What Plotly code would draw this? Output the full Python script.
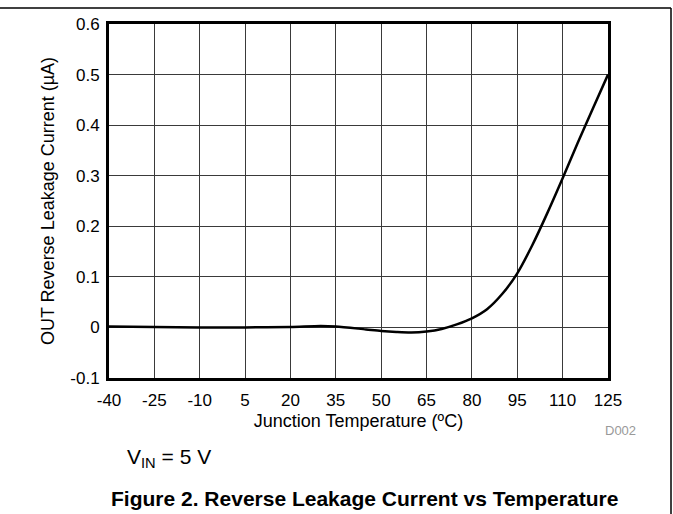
import plotly.graph_objects as go

temps = [-40, -25, -10, 5, 20, 30, 35, 45, 50, 55, 60, 65, 70, 75, 80, 85, 90, 95, 100, 105, 110, 115, 120, 125]
leak = [0.002, 0.001, 0.0, 0.0, 0.001, 0.003, 0.002, -0.004, -0.007, -0.009, -0.010, -0.008, -0.003, 0.006,
        0.018, 0.036, 0.066, 0.107, 0.163, 0.227, 0.295, 0.365, 0.433, 0.5]

x_ticks = [-40, -25, -10, 5, 20, 35, 50, 65, 80, 95, 110, 125]
y_ticks = [-0.1, 0, 0.1, 0.2, 0.3, 0.4, 0.5, 0.6]
y_tick_text = ["-0.1", "0", "0.1", "0.2", "0.3", "0.4", "0.5", "0.6"]

W, H = 673, 514
ML, MT = 109, 24
MR = W - 608
MB = H - 378
PW, PH = W - ML - MR, H - MT - MB

def px_x(p):
    return (p - ML) / PW

def px_y(p):
    return (H - MB - p) / PH

FONT = "Liberation Sans, Arial, sans-serif"

fig = go.Figure()
fig.add_trace(go.Scatter(x=temps, y=leak, mode="lines",
                         line=dict(color="black", width=2.5, shape="spline", smoothing=0.8),
                         hoverinfo="skip", showlegend=False))

axis_common = dict(showline=True, linecolor="black", linewidth=3, mirror=True,
                   showgrid=True, gridcolor="#3a3a3a", gridwidth=1, zeroline=False,
                   ticks="", tickfont=dict(family=FONT, size=17, color="black"))

fig.update_xaxes(range=[-40, 125], tickmode="array", tickvals=x_ticks,
                 ticktext=[str(v) for v in x_ticks], ticklabelstandoff=5,
                 title=dict(text="Junction Temperature (ºC)", font=dict(family=FONT, size=18, color="black"), standoff=5),
                 **axis_common)
fig.update_yaxes(range=[-0.1, 0.6], tickmode="array", tickvals=y_ticks, ticktext=y_tick_text,
                 ticklabelstandoff=3,
                 title=dict(text="OUT Reverse Leakage Current (µA)", font=dict(family=FONT, size=18, color="black"), standoff=12),
                 **axis_common)

# page frame lines (top and right)
fig.add_shape(type="line", xref="paper", yref="paper", layer="above",
              x0=px_x(0), x1=px_x(671), y0=px_y(8), y1=px_y(8),
              line=dict(color="black", width=1.5))
fig.add_shape(type="line", xref="paper", yref="paper", layer="above",
              x0=px_x(671), x1=px_x(671), y0=px_y(8), y1=px_y(514),
              line=dict(color="black", width=1.5))

fig.add_annotation(text="D002", xref="paper", yref="paper", x=px_x(620), y=px_y(431),
                   showarrow=False, xanchor="center", yanchor="middle",
                   font=dict(family=FONT, size=13, color="#999999"))
fig.add_annotation(text="V<sub>IN</sub> = 5 V", xref="paper", yref="paper", x=px_x(125), y=px_y(458),
                   showarrow=False, xanchor="left", yanchor="middle",
                   font=dict(family=FONT, size=21, color="black"))
fig.add_annotation(text="<b>Figure 2. Reverse Leakage Current vs Temperature</b>", xref="paper", yref="paper",
                   x=px_x(364), y=px_y(498), showarrow=False, xanchor="center", yanchor="middle",
                   font=dict(family=FONT, size=21, color="black"))

fig.update_layout(width=W, height=H, margin=dict(l=ML, r=MR, t=MT, b=MB, autoexpand=False),
                  paper_bgcolor="white", plot_bgcolor="white", showlegend=False)

fig.write_html("out.html", config={"displayModeBar": False},
               post_script="document.body.style.margin='0';")
